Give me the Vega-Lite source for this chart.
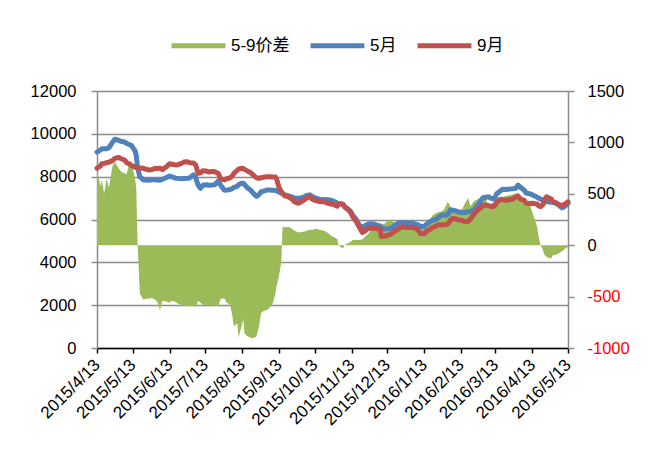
{
  "$schema": "https://vega.github.io/schema/vega-lite/v6.json",
  "width": 471,
  "height": 257,
  "padding": {"left": 30, "top": 16, "right": 20, "bottom": 5},
  "background": "white",
  "config": {
    "view": {"stroke": null},
    "font": "Liberation Sans, Noto Sans CJK SC",
    "axis": {"labelFont": "Liberation Sans", "labelColor": "black"},
    "legend": {
      "labelFont": "Liberation Sans, Noto Sans CJK SC",
      "title": null,
      "orient": "none",
      "legendX": 72,
      "legendY": -75,
      "direction": "horizontal",
      "symbolSize": 2900,
      "symbolType": "stroke",
      "labelFontSize": 17,
      "labelColor": "black",
      "columnPadding": 10,
      "labelOffset": 3,
      "symbolStrokeWidth": 5
    }
  },
  "data": {
    "values": [
      {"date": "2015/04/13", "m5": 9150, "m9": 8400, "sp": 730},
      {"date": "2015/04/16", "m5": 9250, "m9": 8500, "sp": 570},
      {"date": "2015/04/17", "m5": 9300, "m9": 8600, "sp": 640},
      {"date": "2015/04/19", "m5": 9300, "m9": 8620, "sp": 500},
      {"date": "2015/04/21", "m5": 9300, "m9": 8650, "sp": 650},
      {"date": "2015/04/23", "m5": 9350, "m9": 8680, "sp": 560},
      {"date": "2015/04/26", "m5": 9600, "m9": 8750, "sp": 770},
      {"date": "2015/04/28", "m5": 9750, "m9": 8850, "sp": 810},
      {"date": "2015/05/01", "m5": 9700, "m9": 8900, "sp": 750},
      {"date": "2015/05/03", "m5": 9650, "m9": 8850, "sp": 720},
      {"date": "2015/05/06", "m5": 9620, "m9": 8780, "sp": 700},
      {"date": "2015/05/08", "m5": 9550, "m9": 8650, "sp": 690},
      {"date": "2015/05/10", "m5": 9500, "m9": 8600, "sp": 800},
      {"date": "2015/05/12", "m5": 9450, "m9": 8520, "sp": 812},
      {"date": "2015/05/15", "m5": 9200, "m9": 8440, "sp": 640},
      {"date": "2015/05/16", "m5": 9000, "m9": 8430, "sp": 560},
      {"date": "2015/05/17", "m5": 8450, "m9": 8400, "sp": 50},
      {"date": "2015/05/19", "m5": 8000, "m9": 8400, "sp": -470},
      {"date": "2015/05/22", "m5": 7850, "m9": 8390, "sp": -530},
      {"date": "2015/05/24", "m5": 7850, "m9": 8350, "sp": -520},
      {"date": "2015/05/27", "m5": 7830, "m9": 8310, "sp": -520},
      {"date": "2015/05/29", "m5": 7850, "m9": 8330, "sp": -510},
      {"date": "2015/06/01", "m5": 7860, "m9": 8390, "sp": -530},
      {"date": "2015/06/03", "m5": 7840, "m9": 8380, "sp": -560},
      {"date": "2015/06/05", "m5": 7830, "m9": 8400, "sp": -630},
      {"date": "2015/06/07", "m5": 7880, "m9": 8330, "sp": -540},
      {"date": "2015/06/10", "m5": 7950, "m9": 8450, "sp": -545},
      {"date": "2015/06/13", "m5": 8030, "m9": 8600, "sp": -560},
      {"date": "2015/06/15", "m5": 7990, "m9": 8580, "sp": -540},
      {"date": "2015/06/18", "m5": 7930, "m9": 8550, "sp": -550},
      {"date": "2015/06/20", "m5": 7920, "m9": 8560, "sp": -570},
      {"date": "2015/06/23", "m5": 7900, "m9": 8620, "sp": -580},
      {"date": "2015/06/25", "m5": 7920, "m9": 8680, "sp": -590},
      {"date": "2015/06/28", "m5": 7930, "m9": 8700, "sp": -595},
      {"date": "2015/06/30", "m5": 7940, "m9": 8650, "sp": -590},
      {"date": "2015/07/03", "m5": 8080, "m9": 8640, "sp": -590},
      {"date": "2015/07/05", "m5": 7950, "m9": 8550, "sp": -600},
      {"date": "2015/07/07", "m5": 7600, "m9": 8150, "sp": -540},
      {"date": "2015/07/09", "m5": 7460, "m9": 8180, "sp": -560},
      {"date": "2015/07/11", "m5": 7600, "m9": 8280, "sp": -580},
      {"date": "2015/07/14", "m5": 7620, "m9": 8260, "sp": -580},
      {"date": "2015/07/16", "m5": 7600, "m9": 8220, "sp": -585},
      {"date": "2015/07/19", "m5": 7610, "m9": 8240, "sp": -580},
      {"date": "2015/07/21", "m5": 7620, "m9": 8230, "sp": -590},
      {"date": "2015/07/24", "m5": 7800, "m9": 8150, "sp": -595},
      {"date": "2015/07/26", "m5": 7600, "m9": 7900, "sp": -520},
      {"date": "2015/07/29", "m5": 7380, "m9": 7850, "sp": -515},
      {"date": "2015/07/31", "m5": 7370, "m9": 7900, "sp": -560},
      {"date": "2015/08/03", "m5": 7400, "m9": 7950, "sp": -580},
      {"date": "2015/08/05", "m5": 7450, "m9": 8050, "sp": -700},
      {"date": "2015/08/06", "m5": 7500, "m9": 8150, "sp": -790},
      {"date": "2015/08/09", "m5": 7550, "m9": 8300, "sp": -760},
      {"date": "2015/08/10", "m5": 7620, "m9": 8350, "sp": -900},
      {"date": "2015/08/12", "m5": 7680, "m9": 8390, "sp": -810},
      {"date": "2015/08/14", "m5": 7690, "m9": 8380, "sp": -720},
      {"date": "2015/08/15", "m5": 7650, "m9": 8340, "sp": -860},
      {"date": "2015/08/17", "m5": 7500, "m9": 8280, "sp": -880},
      {"date": "2015/08/20", "m5": 7380, "m9": 8200, "sp": -900},
      {"date": "2015/08/22", "m5": 7250, "m9": 8100, "sp": -905},
      {"date": "2015/08/25", "m5": 7080, "m9": 7950, "sp": -890},
      {"date": "2015/08/27", "m5": 7150, "m9": 7920, "sp": -800},
      {"date": "2015/08/29", "m5": 7300, "m9": 7950, "sp": -660},
      {"date": "2015/08/31", "m5": 7320, "m9": 7970, "sp": -640},
      {"date": "2015/09/03", "m5": 7380, "m9": 8000, "sp": -630},
      {"date": "2015/09/05", "m5": 7380, "m9": 8000, "sp": -610},
      {"date": "2015/09/08", "m5": 7370, "m9": 7980, "sp": -560},
      {"date": "2015/09/10", "m5": 7360, "m9": 7980, "sp": -470},
      {"date": "2015/09/11", "m5": 7340, "m9": 7900, "sp": -400},
      {"date": "2015/09/13", "m5": 7280, "m9": 7500, "sp": -300},
      {"date": "2015/09/15", "m5": 7230, "m9": 7300, "sp": -160},
      {"date": "2015/09/16", "m5": 7210, "m9": 7220, "sp": 180},
      {"date": "2015/09/18", "m5": 7150, "m9": 7100, "sp": 175},
      {"date": "2015/09/21", "m5": 7100, "m9": 7060, "sp": 180},
      {"date": "2015/09/24", "m5": 7050, "m9": 6950, "sp": 160},
      {"date": "2015/09/26", "m5": 7000, "m9": 6830, "sp": 140},
      {"date": "2015/09/29", "m5": 6990, "m9": 6760, "sp": 125},
      {"date": "2015/10/01", "m5": 7000, "m9": 6800, "sp": 125},
      {"date": "2015/10/04", "m5": 7050, "m9": 6900, "sp": 130},
      {"date": "2015/10/06", "m5": 7120, "m9": 7000, "sp": 140},
      {"date": "2015/10/09", "m5": 7150, "m9": 7060, "sp": 150},
      {"date": "2015/10/11", "m5": 7080, "m9": 6950, "sp": 150},
      {"date": "2015/10/14", "m5": 6990, "m9": 6880, "sp": 160},
      {"date": "2015/10/17", "m5": 6950, "m9": 6840, "sp": 150},
      {"date": "2015/10/19", "m5": 6920, "m9": 6830, "sp": 145},
      {"date": "2015/10/21", "m5": 6930, "m9": 6830, "sp": 140},
      {"date": "2015/10/24", "m5": 6920, "m9": 6760, "sp": 120},
      {"date": "2015/10/27", "m5": 6900, "m9": 6720, "sp": 90},
      {"date": "2015/10/29", "m5": 6850, "m9": 6700, "sp": 80},
      {"date": "2015/11/01", "m5": 6770, "m9": 6620, "sp": 60},
      {"date": "2015/11/02", "m5": 6750, "m9": 6720, "sp": 0},
      {"date": "2015/11/04", "m5": 6740, "m9": 6730, "sp": -20},
      {"date": "2015/11/06", "m5": 6700, "m9": 6700, "sp": -30},
      {"date": "2015/11/07", "m5": 6600, "m9": 6600, "sp": 0},
      {"date": "2015/11/09", "m5": 6520, "m9": 6520, "sp": 15},
      {"date": "2015/11/12", "m5": 6400, "m9": 6350, "sp": 30},
      {"date": "2015/11/14", "m5": 6210, "m9": 6130, "sp": 50},
      {"date": "2015/11/17", "m5": 6000, "m9": 5900, "sp": 50},
      {"date": "2015/11/19", "m5": 5780, "m9": 5700, "sp": 50},
      {"date": "2015/11/22", "m5": 5620, "m9": 5400, "sp": 55},
      {"date": "2015/11/24", "m5": 5700, "m9": 5450, "sp": 80},
      {"date": "2015/11/27", "m5": 5790, "m9": 5590, "sp": 110},
      {"date": "2015/11/29", "m5": 5800, "m9": 5600, "sp": 140},
      {"date": "2015/12/02", "m5": 5790, "m9": 5590, "sp": 170},
      {"date": "2015/12/04", "m5": 5740, "m9": 5580, "sp": 180},
      {"date": "2015/12/07", "m5": 5700, "m9": 5560, "sp": 190},
      {"date": "2015/12/08", "m5": 5620, "m9": 5200, "sp": 200},
      {"date": "2015/12/11", "m5": 5560, "m9": 5230, "sp": 210},
      {"date": "2015/12/14", "m5": 5570, "m9": 5275, "sp": 250},
      {"date": "2015/12/16", "m5": 5600, "m9": 5320, "sp": 240},
      {"date": "2015/12/19", "m5": 5700, "m9": 5450, "sp": 220},
      {"date": "2015/12/21", "m5": 5800, "m9": 5510, "sp": 210},
      {"date": "2015/12/24", "m5": 5850, "m9": 5620, "sp": 215},
      {"date": "2015/12/26", "m5": 5860, "m9": 5665, "sp": 225},
      {"date": "2015/12/29", "m5": 5840, "m9": 5640, "sp": 230},
      {"date": "2016/01/01", "m5": 5830, "m9": 5630, "sp": 230},
      {"date": "2016/01/03", "m5": 5830, "m9": 5640, "sp": 220},
      {"date": "2016/01/05", "m5": 5800, "m9": 5620, "sp": 215},
      {"date": "2016/01/08", "m5": 5750, "m9": 5500, "sp": 200},
      {"date": "2016/01/10", "m5": 5680, "m9": 5350, "sp": 190},
      {"date": "2016/01/13", "m5": 5670, "m9": 5330, "sp": 185},
      {"date": "2016/01/15", "m5": 5780, "m9": 5450, "sp": 220},
      {"date": "2016/01/18", "m5": 5900, "m9": 5540, "sp": 250},
      {"date": "2016/01/20", "m5": 5960, "m9": 5620, "sp": 290},
      {"date": "2016/01/23", "m5": 6000, "m9": 5700, "sp": 310},
      {"date": "2016/01/25", "m5": 6100, "m9": 5740, "sp": 320},
      {"date": "2016/01/28", "m5": 6210, "m9": 5760, "sp": 330},
      {"date": "2016/01/30", "m5": 6200, "m9": 5750, "sp": 350},
      {"date": "2016/02/02", "m5": 6230, "m9": 5800, "sp": 425},
      {"date": "2016/02/04", "m5": 6440, "m9": 5950, "sp": 380},
      {"date": "2016/02/06", "m5": 6430, "m9": 6050, "sp": 360},
      {"date": "2016/02/09", "m5": 6400, "m9": 6020, "sp": 345},
      {"date": "2016/02/11", "m5": 6350, "m9": 5980, "sp": 345},
      {"date": "2016/02/14", "m5": 6320, "m9": 5950, "sp": 350},
      {"date": "2016/02/16", "m5": 6330, "m9": 5920, "sp": 400},
      {"date": "2016/02/19", "m5": 6360, "m9": 5900, "sp": 460},
      {"date": "2016/02/21", "m5": 6380, "m9": 6020, "sp": 380},
      {"date": "2016/02/24", "m5": 6450, "m9": 6250, "sp": 430},
      {"date": "2016/02/26", "m5": 6600, "m9": 6400, "sp": 440},
      {"date": "2016/02/29", "m5": 6800, "m9": 6520, "sp": 460},
      {"date": "2016/03/02", "m5": 6990, "m9": 6620, "sp": 490},
      {"date": "2016/03/05", "m5": 7040, "m9": 6680, "sp": 470},
      {"date": "2016/03/07", "m5": 7060, "m9": 6650, "sp": 350},
      {"date": "2016/03/09", "m5": 7000, "m9": 6600, "sp": 400},
      {"date": "2016/03/12", "m5": 6950, "m9": 6620, "sp": 420},
      {"date": "2016/03/14", "m5": 7200, "m9": 6800, "sp": 440},
      {"date": "2016/03/17", "m5": 7330, "m9": 6940, "sp": 460},
      {"date": "2016/03/19", "m5": 7410, "m9": 6920, "sp": 470},
      {"date": "2016/03/22", "m5": 7400, "m9": 6900, "sp": 480},
      {"date": "2016/03/25", "m5": 7420, "m9": 6930, "sp": 485},
      {"date": "2016/03/27", "m5": 7430, "m9": 6940, "sp": 490},
      {"date": "2016/03/30", "m5": 7460, "m9": 7050, "sp": 500},
      {"date": "2016/04/01", "m5": 7610, "m9": 7090, "sp": 510},
      {"date": "2016/04/03", "m5": 7500, "m9": 6950, "sp": 470},
      {"date": "2016/04/06", "m5": 7380, "m9": 6900, "sp": 440},
      {"date": "2016/04/08", "m5": 7230, "m9": 6760, "sp": 420},
      {"date": "2016/04/11", "m5": 7200, "m9": 6750, "sp": 390},
      {"date": "2016/04/13", "m5": 7150, "m9": 6760, "sp": 320},
      {"date": "2016/04/15", "m5": 7100, "m9": 6740, "sp": 250},
      {"date": "2016/04/17", "m5": 7050, "m9": 6730, "sp": 180},
      {"date": "2016/04/18", "m5": 7000, "m9": 6650, "sp": 100},
      {"date": "2016/04/20", "m5": 6950, "m9": 6600, "sp": 0},
      {"date": "2016/04/22", "m5": 6900, "m9": 6700, "sp": -50},
      {"date": "2016/04/23", "m5": 6860, "m9": 6900, "sp": -90},
      {"date": "2016/04/25", "m5": 6830, "m9": 7060, "sp": -115},
      {"date": "2016/04/27", "m5": 6820, "m9": 7000, "sp": -125},
      {"date": "2016/04/29", "m5": 6810, "m9": 6950, "sp": -130},
      {"date": "2016/04/30", "m5": 6800, "m9": 6850, "sp": -100},
      {"date": "2016/05/03", "m5": 6750, "m9": 6780, "sp": -90},
      {"date": "2016/05/05", "m5": 6680, "m9": 6700, "sp": -80},
      {"date": "2016/05/08", "m5": 6550, "m9": 6650, "sp": -60},
      {"date": "2016/05/10", "m5": 6600, "m9": 6700, "sp": -40},
      {"date": "2016/05/13", "m5": 6750, "m9": 6830, "sp": -15}
    ]
  },
  "encoding": {
    "x": {
      "field": "date",
      "type": "temporal",
      "scale": {
        "domain": [{"year": 2015, "month": 4, "date": 13}, {"year": 2016, "month": 5, "date": 13}],
        "nice": false
      },
      "axis": {
        "title": null,
        "values": [
          {"year": 2015, "month": 4, "date": 13},
          {"year": 2015, "month": 5, "date": 13},
          {"year": 2015, "month": 6, "date": 13},
          {"year": 2015, "month": 7, "date": 13},
          {"year": 2015, "month": 8, "date": 13},
          {"year": 2015, "month": 9, "date": 13},
          {"year": 2015, "month": 10, "date": 13},
          {"year": 2015, "month": 11, "date": 13},
          {"year": 2015, "month": 12, "date": 13},
          {"year": 2016, "month": 1, "date": 13},
          {"year": 2016, "month": 2, "date": 13},
          {"year": 2016, "month": 3, "date": 13},
          {"year": 2016, "month": 4, "date": 13},
          {"year": 2016, "month": 5, "date": 13}
        ],
        "format": "%Y/%-m/%-d",
        "labelAngle": -45,
        "labelAlign": "right",
        "labelBaseline": "middle",
        "labelFontSize": 17,
        "labelPadding": 9,
        "labelOverlap": false,
        "labelFlush": false,
        "labelBound": false,
        "domainColor": "black",
        "domainWidth": 1.5,
        "tickColor": "black",
        "tickWidth": 1.5,
        "tickSize": 5,
        "grid": false
      }
    }
  },
  "layer": [
    {
      "mark": {"type": "area", "interpolate": "linear", "opacity": 1},
      "encoding": {
        "y": {
          "field": "sp",
          "type": "quantitative",
          "scale": {"domain": [-1000, 1500], "nice": false, "zero": false},
          "axis": {
            "orient": "right",
            "title": null,
            "values": [-1000, -500, 0, 500, 1000, 1500],
            "labelExpr": "'' + datum.value",
            "grid": false,
            "domainColor": "#8c8c8c",
            "domainWidth": 1.5,
            "tickColor": "#8c8c8c",
            "tickWidth": 1.5,
            "tickSize": 6,
            "labelFontSize": 16.5,
            "labelPadding": 13,
            "labelColor": {"condition": {"test": "datum.value < 0", "value": "#FF0000"}, "value": "black"}
          }
        },
        "color": {
          "datum": "5-9价差",
          "scale": {"domain": ["5-9价差", "5月", "9月"], "range": ["#9BBB59", "#4F81BD", "#C0504D"]},
          "legend": {
            "encode": {
              "symbols": {
                "shape": {"condition": {"test": "datum.value === '5-9价差'", "value": "M-1,-0.15H1V0.15H-1Z"}, "value": "stroke"},
                "fill": {"condition": {"test": "datum.value === '5-9价差'", "value": "#9BBB59"}, "value": "transparent"},
                "stroke": {"condition": [{"test": "datum.value === '5-9价差'", "value": "transparent"}, {"test": "datum.value === '5月'", "value": "#4F81BD"}], "value": "#C0504D"},
                "strokeWidth": {"value": 5},
                "strokeCap": {"value": "round"},
                "opacity": {"value": 1}
              }
            }
          }
        }
      }
    },
    {
      "layer": [
        {
          "mark": {"type": "line", "strokeWidth": 5, "strokeCap": "round", "strokeJoin": "round"},
          "encoding": {
            "y": {
              "field": "m5",
              "type": "quantitative",
              "scale": {"domain": [0, 12000], "nice": false},
              "axis": {
                "orient": "left",
                "title": null,
                "values": [0, 2000, 4000, 6000, 8000, 10000, 12000],
                "labelExpr": "'' + datum.value",
                "grid": true,
                "gridColor": "#8c8c8c",
                "gridWidth": 1.5,
                "domainColor": "#8c8c8c",
                "domainWidth": 1.5,
                "tickColor": "#8c8c8c",
                "tickWidth": 1.5,
                "tickSize": 6,
                "labelFontSize": 16.5,
                "labelPadding": 15
              }
            },
            "color": {"datum": "5月"}
          }
        },
        {
          "mark": {"type": "line", "strokeWidth": 5, "strokeCap": "round", "strokeJoin": "round"},
          "encoding": {
            "y": {"field": "m9", "type": "quantitative"},
            "color": {"datum": "9月"}
          }
        }
      ]
    }
  ],
  "resolve": {"scale": {"y": "independent"}}
}
